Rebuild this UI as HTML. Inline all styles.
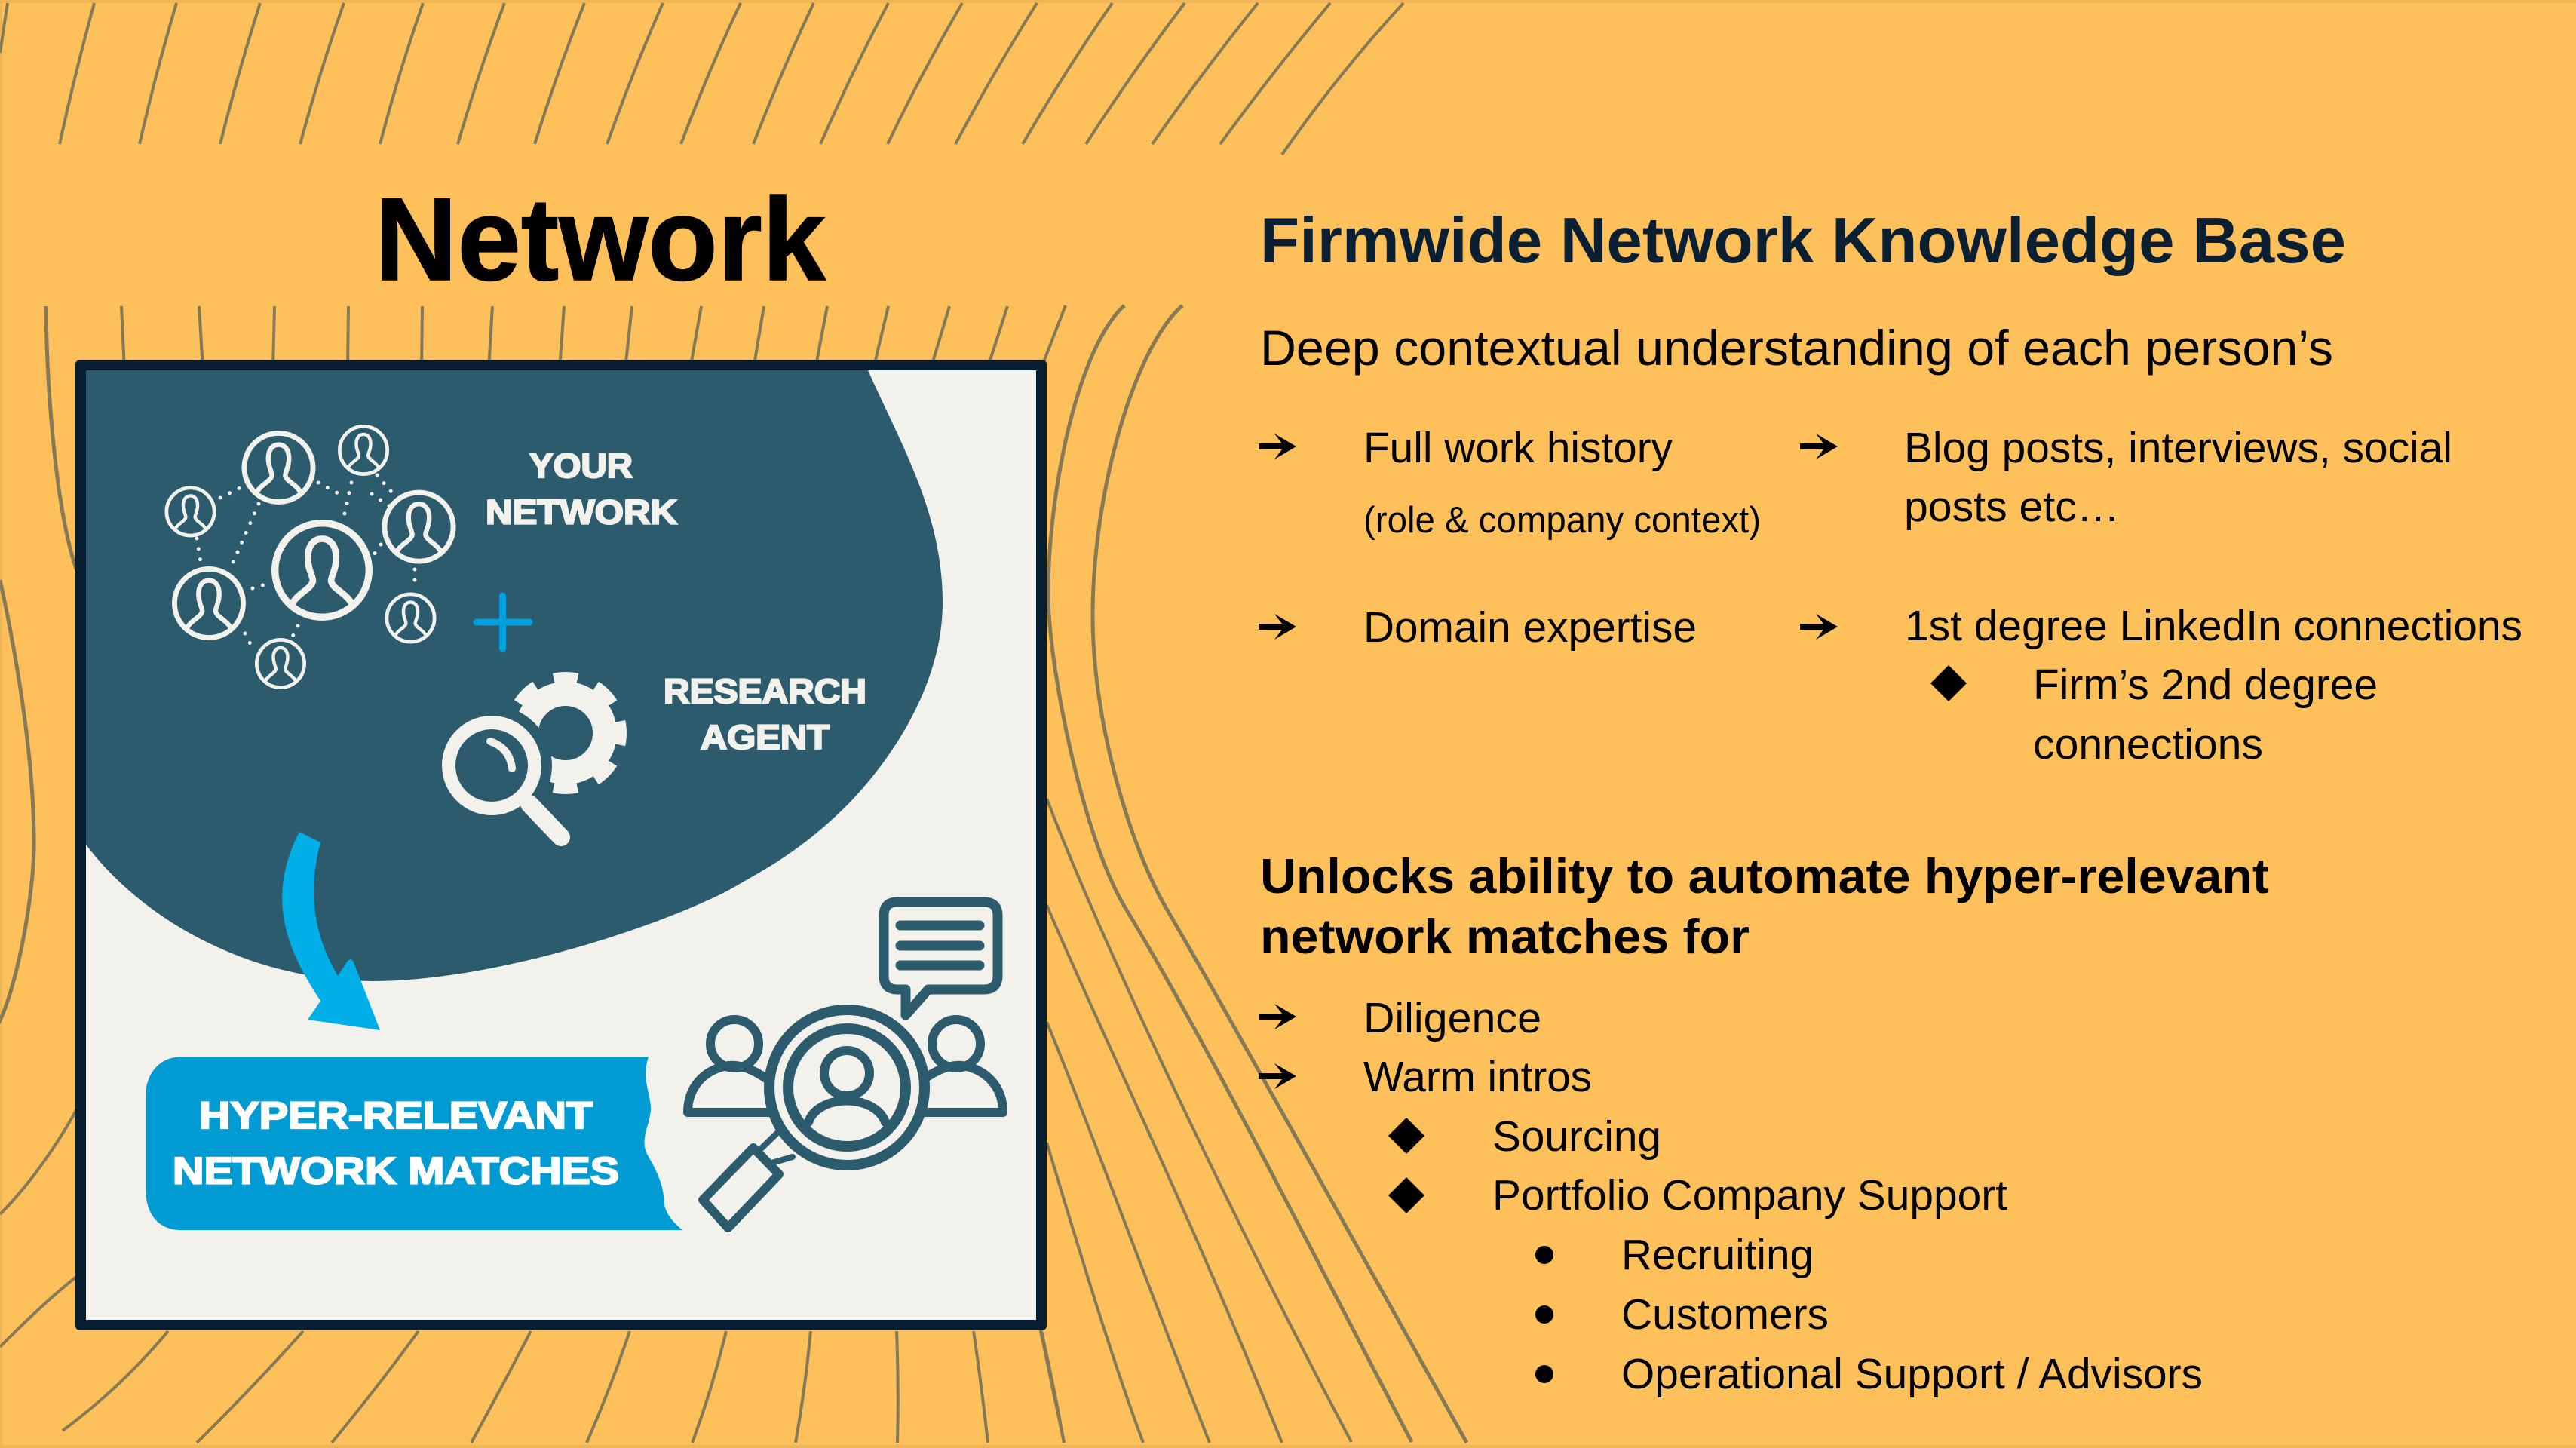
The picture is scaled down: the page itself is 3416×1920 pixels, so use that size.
<!DOCTYPE html>
<html lang="en"><head><meta charset="utf-8"><title>Network</title>
<style>html,body{margin:0;padding:0;background:#fec05a}svg{display:block}text{font-family:"Liberation Sans",Arial,sans-serif}</style></head>
<body>
<svg xmlns="http://www.w3.org/2000/svg" width="3416" height="1920" viewBox="0 0 3416 1920">
<defs>
<g id="p">
<circle r="93" fill="none" stroke="#f2f1ec" stroke-width="14"/>
<path d="M-60,68C-48,45-22,38-18,22C-18,10-28,0-28,-25C-28,-50-15,-62,0,-62C15,-62,28,-50,28,-25C28,0,18,10,18,22C22,38,48,45,60,68" fill="none" stroke="#f2f1ec" stroke-width="13"/>
</g>
<polygon id="a" points="0,-4 31,-4 21,-17 50,0 21,17 31,4 0,4" fill="#000"/>
<polygon id="d" points="-24,0 0,-24 24,0 0,24" fill="#000"/>
</defs>
<rect width="3416" height="1920" fill="#fec05a"/>
<rect width="3416" height="4" fill="#efb658"/><rect y="1916" width="3416" height="4" fill="#efb658"/><rect width="3" height="1920" fill="#efb658"/>

<g fill="none" stroke="#857a55" stroke-width="4">
<path d="M10,4L0,70M125,4Q100,95 79,191M234,4Q207,95 185,191M345,4Q316,95 292,191M456,4Q424,95 398,191M561,4Q529,95 504,191M669,4Q635,95 607,191M775,4Q739,95 709,191M879,4Q839,95 805,191M982,4Q939,95 903,191M1079,4Q1036,95 999,191M1178,4Q1130,95 1088,191M1276,4Q1223,95 1177,191M1375,4Q1318,95 1267,191M1475,4Q1412,95 1356,191M1571,4Q1502,95 1440,191M1668,4Q1595,95 1528,191M1764,4Q1688,95 1618,191M1861,4Q1773,100 1700,205"/>
<path d="M161,406L165,490M264,406L269,490M364,406L362,490M462,406L461,490M560,406L559,490M653,406L648,490M748,406L742,490M838,406L829,490M930,406L915,490M1013,406L999,490M1097,406L1081,490M1178,406L1158,490M1259,406L1234,490M1336,406L1309,490M1413,405L1380,490"/>
<path stroke-width="5" d="M1568,405C1505,460 1449,650 1449,817C1449,960 1500,1125 1547,1205C1620,1330 1770,1600 1945,1913"/>
<path stroke-width="5" d="M1491,405C1430,460 1390,650 1390,788C1390,880 1435,1110 1493,1205C1600,1382 1740,1660 1872,1912"/>
<path d="M1388,1059C1450,1220 1600,1550 1792,1912"/>
<path d="M1388,1200C1460,1370 1570,1590 1700,1913"/>
<path d="M1388,1355C1440,1480 1520,1700 1604,1913"/>
<path d="M1388,1515C1420,1620 1470,1790 1516,1913"/>
<path d="M1378,1755Q1395,1835 1411,1913"/>
<path stroke-width="5" d="M61,406C62,520 75,690 105,765"/>
<path stroke-width="5" d="M0,769C20,860 45,1000 45,1118C45,1190 22,1310 -2,1357"/>
<path d="M105,1465C70,1530 30,1580 0,1610M105,1690Q60,1725 0,1786"/>
<path d="M223,1765Q160,1840 83,1897M402,1765Q335,1840 261,1913M555,1765Q500,1840 440,1913M704,1765Q665,1840 625,1913M835,1765Q810,1840 778,1913M963,1765Q945,1840 918,1913M1075,1765Q1068,1840 1055,1913M1189,1765Q1192,1840 1190,1913M1291,1765Q1302,1840 1310,1913M1381,1765Q1398,1840 1411,1913"/>
</g>

<rect x="100" y="477" width="1288" height="1287" rx="6" fill="#071d30"/>
<rect x="114" y="491" width="1260" height="1259" fill="#f2f1ec"/>
<path d="M114,491H1151C1195,590 1250,680 1250,800C1250,890 1200,990 1121,1070C1060,1130 1010,1155 974,1176C910,1213 680,1300 494,1301C330,1300 190,1220 114,1120Z" fill="#2c5b6e"/>

<g fill="none" stroke="#f2f1ec" stroke-width="5" stroke-linecap="round" stroke-dasharray="0 14">
<path d="M292,660L328,642M343,668L305,755M261,714L266,745M422,640L450,655M466,640L455,690M500,630L530,665M493,655L522,675M505,722L496,735M550,755L550,775M335,780L352,775M395,830L386,848M325,840L335,860"/>
</g>
<use href="#p" transform="translate(427,756) scale(.67)"/>
<use href="#p" transform="translate(369.5,620) scale(.49)"/>
<use href="#p" transform="translate(555.5,698.6) scale(.49)"/>
<use href="#p" transform="translate(277,800) scale(.49)"/>
<use href="#p" transform="translate(482,597) scale(.34)"/>
<use href="#p" transform="translate(252.5,678.5) scale(.34)"/>
<use href="#p" transform="translate(544.5,819.5) scale(.34)"/>
<use href="#p" transform="translate(372,880) scale(.34)"/>

<path d="M632,825H702M666.5,790V860" stroke="#00a0dc" stroke-width="9" stroke-linecap="round" fill="none"/>

<g fill="none" stroke="#f2f1ec">
<circle cx="750" cy="972" r="52" stroke-width="32"/>
<circle cx="750" cy="972" r="72" stroke-width="18" stroke-dasharray="31 25.55" stroke-dashoffset="15.5"/>
</g>
<circle cx="652" cy="1015" r="80" fill="#2c5b6e"/>
<circle cx="652" cy="1015" r="57" fill="none" stroke="#f2f1ec" stroke-width="18"/>
<path d="M650,983Q676,992 679,1019" fill="none" stroke="#f2f1ec" stroke-width="10" stroke-linecap="round"/>
<path d="M702,1066L744,1110" stroke="#f2f1ec" stroke-width="24" stroke-linecap="round"/>

<path d="M397,1103L425,1117C411,1170 410,1230 448,1294L461,1274Q467,1270 469,1276L504,1366L408,1352L425,1327C380,1260 352,1190 397,1103Z" fill="#00aee8"/>
<path d="M240,1401.5H860C850,1430 863,1450 863,1469C863,1490 848,1510 858,1530C872,1555 880,1570 881,1598Q885,1615 905,1631H240C210,1631 193,1610 193,1575V1455C193,1425 210,1401.5 240,1401.5Z" fill="#009bd3"/>

<g fill="none" stroke="#2c5b6e" stroke-width="12" stroke-linecap="round" stroke-linejoin="round">
<path d="M1190,1196H1305Q1323,1196 1323,1214V1294Q1323,1312 1305,1312H1231L1201,1346V1312H1190Q1172,1312 1172,1294V1214Q1172,1196 1190,1196Z" stroke-width="13"/>
<path d="M1194,1227H1299M1194,1254H1299M1194,1280H1299" stroke-width="13"/>
<circle cx="974" cy="1384" r="32"/><circle cx="1268" cy="1384" r="32"/>
<path d="M912,1475C912,1440 935,1420 960,1414C985,1408 1010,1425 1030,1440M912,1475H1030"/>
<path d="M1330,1475C1330,1440 1307,1420 1282,1414C1257,1408 1232,1425 1212,1440M1330,1475H1212"/>
<path d="M1031,1502L1003,1529M1051,1534L1020,1543" stroke-width="8"/>
<polygon points="999,1522 1033,1557 965.5,1628 932,1591"/>
<circle cx="1123" cy="1442" r="103" fill="#f2f1ec" stroke-width="14"/>
<circle cx="1123" cy="1442" r="78" stroke-width="14"/>
<circle cx="1123" cy="1423" r="30"/>
<path d="M1072,1488C1085,1450 1160,1450 1174,1488" stroke-width="12"/>
</g>

<g fill="#f2f1ec" stroke="#f2f1ec" stroke-width="2.2" font-weight="700" font-size="45">
<text x="702" y="633" textLength="137" lengthAdjust="spacingAndGlyphs">YOUR</text>
<text x="644" y="694.5" textLength="254" lengthAdjust="spacingAndGlyphs">NETWORK</text>
<text x="880" y="932" textLength="269" lengthAdjust="spacingAndGlyphs">RESEARCH</text>
<text x="929" y="993" textLength="171" lengthAdjust="spacingAndGlyphs">AGENT</text>
</g>
<g fill="#fff" stroke="#fff" stroke-width="2.2" font-weight="700" font-size="50">
<text x="264" y="1496" textLength="522" lengthAdjust="spacingAndGlyphs">HYPER-RELEVANT</text>
<text x="229" y="1569.5" textLength="592" lengthAdjust="spacingAndGlyphs">NETWORK MATCHES</text>
</g>

<text x="497" y="371" font-size="156" font-weight="700" fill="#000" stroke="#000" stroke-width="1.5" textLength="598" lengthAdjust="spacingAndGlyphs">Network</text>
<text x="1671" y="348" font-size="85" font-weight="700" fill="#0b1f33" textLength="1440" lengthAdjust="spacingAndGlyphs">Firmwide Network Knowledge Base</text>
<text x="1671" y="484" font-size="65.5" fill="#000" textLength="1423" lengthAdjust="spacingAndGlyphs">Deep contextual understanding of each person’s</text>

<g font-size="57" fill="#000">
<text x="1808" y="613" textLength="410" lengthAdjust="spacingAndGlyphs">Full work history</text>
<text x="1808" y="706" font-size="49" textLength="527" lengthAdjust="spacingAndGlyphs">(role &amp; company context)</text>
<text x="1808" y="851" textLength="442" lengthAdjust="spacingAndGlyphs">Domain expertise</text>
<text x="2525" y="613" textLength="727" lengthAdjust="spacingAndGlyphs">Blog posts, interviews, social</text>
<text x="2525" y="691" textLength="286" lengthAdjust="spacingAndGlyphs">posts etc…</text>
<text x="2526" y="849" textLength="819" lengthAdjust="spacingAndGlyphs">1st degree LinkedIn connections</text>
<text x="2696" y="927" textLength="457" lengthAdjust="spacingAndGlyphs">Firm’s 2nd degree</text>
<text x="2696" y="1006" textLength="305" lengthAdjust="spacingAndGlyphs">connections</text>
<text x="1808" y="1369" textLength="236" lengthAdjust="spacingAndGlyphs">Diligence</text>
<text x="1808" y="1447" textLength="303" lengthAdjust="spacingAndGlyphs">Warm intros</text>
<text x="1979" y="1526" textLength="224" lengthAdjust="spacingAndGlyphs">Sourcing</text>
<text x="1979" y="1604" textLength="683" lengthAdjust="spacingAndGlyphs">Portfolio Company Support</text>
<text x="2150" y="1683" textLength="255" lengthAdjust="spacingAndGlyphs">Recruiting</text>
<text x="2150" y="1762" textLength="275" lengthAdjust="spacingAndGlyphs">Customers</text>
<text x="2150" y="1841" textLength="771" lengthAdjust="spacingAndGlyphs">Operational Support / Advisors</text>
</g>
<g font-size="65" font-weight="700" fill="#000">
<text x="1671" y="1184" textLength="1338" lengthAdjust="spacingAndGlyphs">Unlocks ability to automate hyper-relevant</text>
<text x="1671" y="1264" textLength="649" lengthAdjust="spacingAndGlyphs">network matches for</text>
</g>

<use href="#a" x="1669" y="592"/><use href="#a" x="1669" y="831"/>
<use href="#a" x="2387" y="592"/><use href="#a" x="2387" y="831"/>
<use href="#a" x="1669" y="1348"/><use href="#a" x="1669" y="1427"/>
<use href="#d" x="2584" y="906"/><use href="#d" x="1865" y="1506"/><use href="#d" x="1865" y="1585"/>
<circle cx="2048" cy="1664" r="12"/><circle cx="2048" cy="1743" r="12"/><circle cx="2048" cy="1822" r="12"/>
</svg>
</body></html>
